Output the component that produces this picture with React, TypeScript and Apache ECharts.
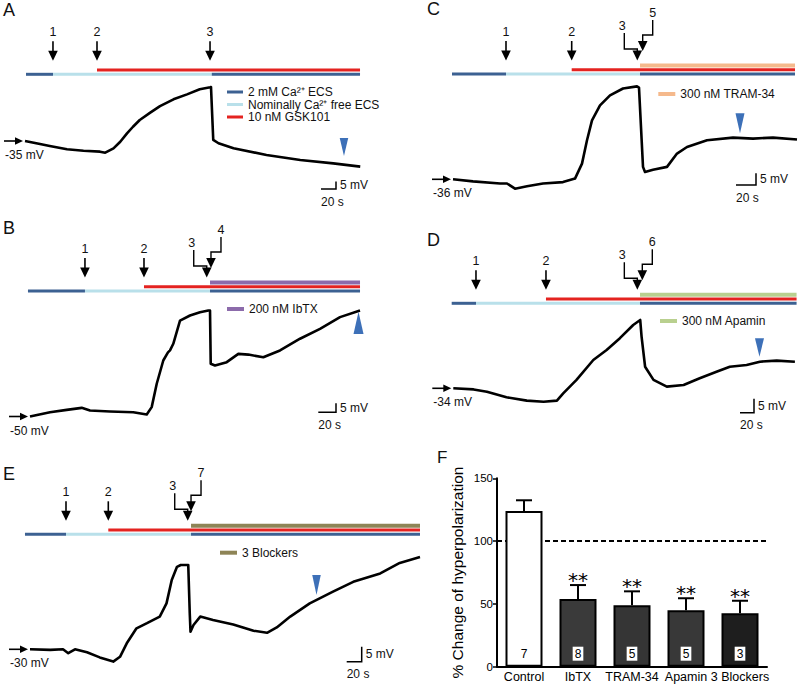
import React, { useEffect, useRef } from 'react';
import * as echarts from 'echarts';

// ---------------- data (time in s, membrane potential in mV) ----------------
const traceA: number[][] = [
  [0, -35], [20, -37], [33, -38.3], [56, -40.5], [78, -41.5], [100, -42.1], [107, -42.8],
  [118, -39.9], [127, -35.5], [136, -29.9], [144, -25.5], [153, -21], [167, -16.1], [180, -11.7],
  [198, -7.2], [216, -3.9], [233, -0.5], [247, 0.8], [248, 1], [251, -34.3], [258, -36.5],
  [278, -39.9], [322, -44.3], [367, -47.7], [411, -49.9], [447, -52.1],
];
const traceB: number[][] = [
  [0, -50], [22.6, -47.6], [41.5, -46.3], [58.4, -45.2], [67.8, -46.7], [90.4, -47.2],
  [116.7, -47.6], [131.9, -48.9], [137.5, -44.8], [143.2, -31.8], [150.6, -18.9], [155.9, -14.4],
  [158.2, -13.3], [161.9, -9.6], [169.5, 3.3], [180.8, 6.1], [192.1, 7.9], [201.5, 8.9],
  [203.4, 8.9], [204.2, -20.7], [209, -21.7], [222.3, -19.8], [235.4, -15.2], [246.7, -15.6],
  [263.6, -17.1], [282.5, -13.3], [305.1, -6.8], [327.7, -1.3], [350.3, 5.2], [372.9, 8.9],
];
const traceC: number[][] = [
  [0, -36], [20, -36.9], [47, -37.8], [54, -37.8], [62, -40], [74, -39], [90, -37.8],
  [110, -37.2], [122, -35.7], [129, -29.3], [134, -19.3], [139, -10.8], [147, -4.4],
  [157, -0.1], [170, 2.8], [184, 3.7], [186, 3.2], [190, -30.7], [192, -32.9], [200, -31.9],
  [214, -30.7], [224, -25], [234, -22.2], [254, -19.3], [280, -18.2], [300, -18.6],
  [320, -18.2], [344, -19],
];
const traceD: number[][] = [
  [0, -34], [29, -34.4], [48, -35.2], [76, -37.2], [105, -38.4], [129, -38.8], [148, -38.4],
  [157, -35.8], [176, -31], [200, -23.9], [219, -20.3], [238, -16.1], [257, -11.4], [267, -9.6],
  [269, -15.6], [274, -26.3], [286, -31], [305, -33.4], [329, -32.8], [352, -30.4],
  [376, -28.1], [395, -26.3], [419, -25.7], [438, -24.5], [462, -24.1], [488, -24.5],
];
const traceE: number[][] = [
  [0, -30], [27, -30.2], [44, -30], [51, -31.3], [60, -30], [76, -31], [93, -32.7],
  [111, -34.1], [120, -32.5], [129, -28], [142, -23], [156, -21.3], [173, -19.1], [182, -14.7],
  [189, -6.9], [196, -2.5], [201, -1.9], [211, -1.9], [213, -18], [214, -24.1], [218, -21.9],
  [227, -19.1], [244, -20.2], [271, -21.7], [298, -23.8], [316, -24.5], [329, -22.7],
  [347, -19.1], [373, -14.7], [404, -10.8], [431, -7.5], [467, -4.7], [493, -1.2], [520, 0.8],
];

// application times (s): start of record, 1, 2, 3, blocker, bath switch, end, measurement point
const eventsA = { start: 1.3, e1: 37.3, e2: 96, e3: 246.7, drug: 0, sw: 249, end: 446.7, mark: 425.3 };
const eventsB = { start: -2.3, e1: 62.1, e2: 128.8, e3: 199.7, drug: 204.5, sw: 203.4, end: 372.9, mark: 371.2 };
const eventsC = { start: -1, e1: 53, e2: 118.7, e3: 184.3, drug: 189.7, sw: 187, end: 342, mark: 287 };
const eventsD = { start: -2.3, e1: 32.4, e2: 132.4, e3: 262.9, drug: 270, sw: 266.7, end: 490.4, mark: 437.4 };
const eventsE = { start: -6.7, e1: 48, e2: 104.4, e3: 210.3, drug: 214.7, sw: 214.7, end: 520, mark: 382 };

// panel F
const categories = ['Control', 'IbTX', 'TRAM-34', 'Apamin', '3 Blockers'];
const meanPct = [124, 54, 49, 45, 42.5];
const semPct = [8.5, 11, 11, 9.5, 10];
const nCells = [7, 8, 5, 5, 3];
const sigMarks = ['', '**', '**', '**', '**'];
const yTicks = [0, 50, 100, 150];

// ---------------- styles / layout ----------------
const FONT = "'Liberation Sans', Arial, Helvetica, sans-serif";
const COL = {
  blue: '#3c6192',
  lblue: '#b9e0ea',
  red: '#e42320',
  purple: '#8c6bab',
  orange: '#f5b98c',
  green: '#b9d08f',
  olive: '#8e8456',
  mark: '#3d70b8',
  ink: '#111111',
};

type Panel = {
  letter: string; letterX: number; letterY: number;
  trace: number[][]; ev: typeof eventsA; baseLabel: string; v0: number;
  ox: number; oy: number; pps: number; ppm: number;
  tMin: number; tMax: number; vMin: number; vMax: number;
  yb: number; drug: null | { name: string; color: string; num: string };
  legendX: number; legendY: number;
  markY1: number; markY2: number; markW: number; markUp: boolean;
  scaleX: number; scaleY: number;
};

const panels: Panel[] = [
  {
    letter: 'A', letterX: 3, letterY: 10, trace: traceA, ev: eventsA, baseLabel: '-35 mV', v0: -35,
    ox: 25, oy: 141, pps: 0.75, ppm: 1.5, tMin: 0, tMax: 448, vMin: -56, vMax: 4,
    yb: 74.3, drug: null, legendX: 227, legendY: 92,
    markY1: 138, markY2: 156, markW: 8.5, markUp: false, scaleX: 336, scaleY: 189,
  },
  {
    letter: 'B', letterX: 3, letterY: 228, trace: traceB, ev: eventsB, baseLabel: '-50 mV', v0: -50,
    ox: 30, oy: 416.5, pps: 0.885, ppm: 1.8, tMin: -3, tMax: 374, vMin: -52, vMax: 12,
    yb: 291, drug: { name: '200 nM IbTX', color: COL.purple, num: '4' }, legendX: 227, legendY: 309,
    markY1: 311.7, markY2: 334, markW: 10, markUp: true, scaleX: 336, scaleY: 412.3,
  },
  {
    letter: 'C', letterX: 427, letterY: 9, trace: traceC, ev: eventsC, baseLabel: '-36 mV', v0: -36,
    ox: 453, oy: 179.3, pps: 1.0, ppm: 2.34, tMin: -2, tMax: 345, vMin: -42, vMax: 6,
    yb: 74, drug: { name: '300 nM TRAM-34', color: COL.orange, num: '5' }, legendX: 658.3, legendY: 94,
    markY1: 113.3, markY2: 133.3, markW: 9, markUp: false, scaleX: 756, scaleY: 185,
  },
  {
    letter: 'D', letterX: 427, letterY: 240, trace: traceD, ev: eventsD, baseLabel: '-34 mV', v0: -34,
    ox: 453.3, oy: 388.3, pps: 0.7, ppm: 2.8, tMin: -3, tMax: 491, vMin: -41, vMax: -7,
    yb: 303.3, drug: { name: '300 nM Apamin', color: COL.green, num: '6' }, legendX: 660, legendY: 321,
    markY1: 338.3, markY2: 356.7, markW: 9, markUp: false, scaleX: 754, scaleY: 412.7,
  },
  {
    letter: 'E', letterX: 3, letterY: 473.5, trace: traceE, ev: eventsE, baseLabel: '-30 mV', v0: -30,
    ox: 30, oy: 649.3, pps: 0.75, ppm: 3, tMin: -7, tMax: 521, vMin: -36, vMax: 3,
    yb: 534.3, drug: { name: '3 Blockers', color: COL.olive, num: '7' }, legendX: 220, legendY: 552.7,
    markY1: 575, markY2: 595, markW: 8.5, markUp: false, scaleX: 361.7, scaleY: 661.7,
  },
];

// ---------------- graphic helpers ----------------
const txt = (text: string, x: number, y: number, size = 12, align = 'left', family = FONT): any => ({
  type: 'text', x, y, silent: true, z: 50,
  style: {
    text, fill: COL.ink, fontSize: size, fontFamily: family,
    align, verticalAlign: 'middle', textAlign: align, textVerticalAlign: 'middle',
  },
});
const seg = (x1: number, y1: number, x2: number, y2: number, lw: number, color: string): any => ({
  type: 'line', silent: true, z: 40, shape: { x1, y1, x2, y2 }, style: { stroke: color, lineWidth: lw },
});
const poly = (pts: number[][], color: string): any => ({
  type: 'polygon', silent: true, z: 45, shape: { points: pts }, style: { fill: color, stroke: 'none' },
});
const pline = (pts: number[][], lw: number): any => ({
  type: 'polyline', silent: true, z: 40, shape: { points: pts }, style: { stroke: '#000', lineWidth: lw, fill: 'none' },
});
const headDown = (x: number, tip: number) => poly([[x - 4.8, tip - 10], [x + 4.8, tip - 10], [x, tip]], '#000');

function panelGraphics(p: Panel): any[] {
  const X = (t: number) => p.ox + t * p.pps;
  const ev = p.ev;
  const yb = p.yb;
  const els: any[] = [];
  els.push(txt(p.letter, p.letterX, p.letterY, 18, 'left'));

  // solution bars
  els.push(seg(X(ev.e1), yb, X(ev.sw), yb, 3, COL.lblue));
  els.push(seg(X(ev.start), yb, X(ev.e1), yb, 3, COL.blue));
  els.push(seg(X(ev.sw), yb, X(ev.end), yb, 3, COL.blue));
  els.push(seg(X(ev.e2), yb - 4.3, X(ev.end), yb - 4.3, 3, COL.red));
  if (p.drug) els.push(seg(X(ev.sw), yb - 8.6, X(ev.end), yb - 8.6, 4, p.drug.color));

  // straight arrows
  const straight = (x: number, label: string) => {
    els.push(txt(label, x, yb - 42, 12.5, 'center'));
    els.push(seg(x, yb - 33, x, yb - 20, 1.6, '#000'));
    els.push(headDown(x, yb - 13.5));
  };
  straight(X(ev.e1), '1');
  straight(X(ev.e2), '2');
  if (!p.drug) {
    straight(X(ev.e3), '3');
  } else {
    const t3 = X(ev.e3);
    const l3 = t3 - 13;
    els.push(txt('3', l3 - 2, yb - 48, 12.5, 'center'));
    els.push(pline([[l3, yb - 41], [l3, yb - 25], [t3, yb - 25], [t3, yb - 20]], 1.4));
    els.push(headDown(t3, yb - 13.5));
    const td = X(ev.drug);
    const ld = td + 10;
    els.push(txt(p.drug.num, ld, yb - 61, 12.5, 'center'));
    els.push(pline([[ld, yb - 54], [ld, yb - 39], [td, yb - 39], [td, yb - 30]], 1.4));
    els.push(headDown(td, yb - 23));
  }

  // legend
  if (!p.drug) {
    const rows: [string, string][] = [
      ['2 mM Ca²⁺ ECS', COL.blue],
      ['Nominally Ca²⁺ free ECS', COL.lblue],
      ['10 nM GSK101', COL.red],
    ];
    rows.forEach(([name, c], i) => {
      const y = p.legendY + i * 12.5;
      els.push(seg(p.legendX, y, p.legendX + 16, y, 3, c));
      els.push(txt(name, p.legendX + 21, y, 12, 'left'));
    });
  } else {
    els.push(seg(p.legendX, p.legendY, p.legendX + 17, p.legendY, 4, p.drug.color));
    els.push(txt(p.drug.name, p.legendX + 22, p.legendY, 12, 'left'));
  }

  // baseline arrow & label
  const bx2 = p.ox - 2;
  els.push(seg(p.ox - 21, p.oy, bx2 - 7, p.oy, 1.6, '#000'));
  els.push(poly([[bx2 - 8, p.oy - 3.8], [bx2 - 8, p.oy + 3.8], [bx2, p.oy]], '#000'));
  els.push(txt(p.baseLabel, p.ox - 20, p.oy + 14, 12, 'left'));

  // measurement marker (blue arrowhead)
  const mx = X(ev.mark);
  const hw = p.markW / 2;
  if (p.markUp) {
    els.push(poly([[mx - hw, p.markY2], [mx + hw, p.markY2], [mx, p.markY1]], COL.mark));
  } else {
    els.push(poly([[mx - hw, p.markY1], [mx + hw, p.markY1], [mx, p.markY2]], COL.mark));
  }

  // scale bar: 20 s / 5 mV
  const sx = p.scaleX, sy = p.scaleY;
  const w = 20 * p.pps, h = 5 * p.ppm;
  els.push(pline([[sx - w, sy], [sx, sy], [sx, sy - h]], 1.5));
  els.push(txt('5 mV', sx + 4, sy - h / 2, 12, 'left'));
  els.push(txt('20 s', sx - w, sy + 12.5, 12, 'left'));
  return els;
}

function buildOption(): any {
  const grids: any[] = [];
  const xAxes: any[] = [];
  const yAxes: any[] = [];
  const series: any[] = [];
  let graphics: any[] = [];

  panels.forEach((p, i) => {
    grids.push({
      left: p.ox + p.tMin * p.pps,
      top: p.oy - (p.vMax - p.v0) * p.ppm,
      width: (p.tMax - p.tMin) * p.pps,
      height: (p.vMax - p.vMin) * p.ppm,
      containLabel: false,
    });
    xAxes.push({ type: 'value', gridIndex: i, min: p.tMin, max: p.tMax, show: false });
    yAxes.push({ type: 'value', gridIndex: i, min: p.vMin, max: p.vMax, show: false });
    series.push({
      type: 'line', xAxisIndex: i, yAxisIndex: i, data: p.trace, showSymbol: false, symbol: 'none',
      clip: false, lineStyle: { color: '#000', width: 2.6, join: 'round' }, z: 10,
    });
    graphics = graphics.concat(panelGraphics(p));
  });

  // panel F
  const fi = panels.length;
  grids.push({ left: 497, top: 478.3, width: 270, height: 188.4, containLabel: false });
  xAxes.push({
    type: 'category', gridIndex: fi, data: categories,
    axisLine: { lineStyle: { color: '#000', width: 2 } },
    axisTick: { show: false },
    axisLabel: { color: '#000', fontSize: 12.5, fontFamily: FONT, margin: 4, interval: 0 },
  });
  yAxes.push({
    type: 'value', gridIndex: fi, min: yTicks[0], max: yTicks[yTicks.length - 1], interval: 50,
    axisLine: { show: true, lineStyle: { color: '#000', width: 2 } },
    axisTick: { show: true, length: 4, lineStyle: { color: '#000', width: 1.5 } },
    splitLine: { show: false },
    axisLabel: { color: '#000', fontSize: 11.5, fontFamily: FONT, margin: 4 },
    name: '% Change of hyperpolarization', nameLocation: 'middle', nameGap: 32,
    nameTextStyle: { color: '#000', fontSize: 15.5, fontFamily: FONT },
  });
  graphics.push(txt('F', 437, 457.5, 17, 'left'));

  const barFills = ['#ffffff', '#3a3a3a', '#353535', '#383838', '#1e1e1e'];
  series.push({
    type: 'line', xAxisIndex: fi, yAxisIndex: fi, data: [], z: 1, silent: true,
    markLine: {
      silent: true, symbol: 'none', z: 1, label: { show: false },
      lineStyle: { color: '#000', type: [5, 3], width: 2 },
      data: [{ yAxis: 100 }],
    },
  });
  series.push({
    type: 'bar', xAxisIndex: fi, yAxisIndex: fi, barWidth: 37, z: 3,
    data: meanPct.map((v, i) => ({
      value: v,
      itemStyle: { color: barFills[i], borderColor: '#000', borderWidth: 2 },
      label: {
        show: true, position: 'insideBottom', distance: 6, formatter: String(nCells[i]),
        color: '#000', fontSize: 12, fontFamily: FONT,
        backgroundColor: i === 0 ? 'transparent' : '#ffffff', padding: [1, 2],
      },
    })),
  });
  series.push({
    type: 'custom', xAxisIndex: fi, yAxisIndex: fi, z: 4, silent: true,
    data: meanPct.map((m, i) => [i, m, m + semPct[i]]),
    encode: { x: 0, y: [1, 2] },
    renderItem: (params: any, api: any) => {
      const i = api.value(0);
      const base = api.coord([i, api.value(1)]);
      const top = api.coord([i, api.value(2)]);
      const children: any[] = [
        { type: 'line', shape: { x1: base[0], y1: base[1], x2: top[0], y2: top[1] }, style: { stroke: '#000', lineWidth: 2 } },
        { type: 'line', shape: { x1: top[0] - 8, y1: top[1], x2: top[0] + 8, y2: top[1] }, style: { stroke: '#000', lineWidth: 2 } },
      ];
      const s = sigMarks[i];
      if (s) {
        children.push({
          type: 'text', x: top[0], y: top[1] - 5,
          style: {
            text: s, fill: '#000', fontSize: 20, fontFamily: "'DejaVu Sans', sans-serif",
            align: 'center', verticalAlign: 'middle', textAlign: 'center', textVerticalAlign: 'middle',
          },
        });
      }
      return { type: 'group', children };
    },
  });

  return {
    animation: false,
    backgroundColor: '#ffffff',
    textStyle: { fontFamily: FONT },
    grid: grids,
    xAxis: xAxes,
    yAxis: yAxes,
    series,
    graphic: { elements: graphics },
  };
}

export default function App() {
  const ref = useRef<HTMLDivElement>(null);
  useEffect(() => {
    if (!ref.current) return;
    const chart = echarts.init(ref.current, null, { renderer: 'svg' });
    chart.setOption(buildOption());
    return () => chart.dispose();
  }, []);
  return (
    <div
      ref={ref}
      style={{ position: 'absolute', left: 0, top: 0, width: 800, height: 685, background: '#fff' }}
    />
  );
}
